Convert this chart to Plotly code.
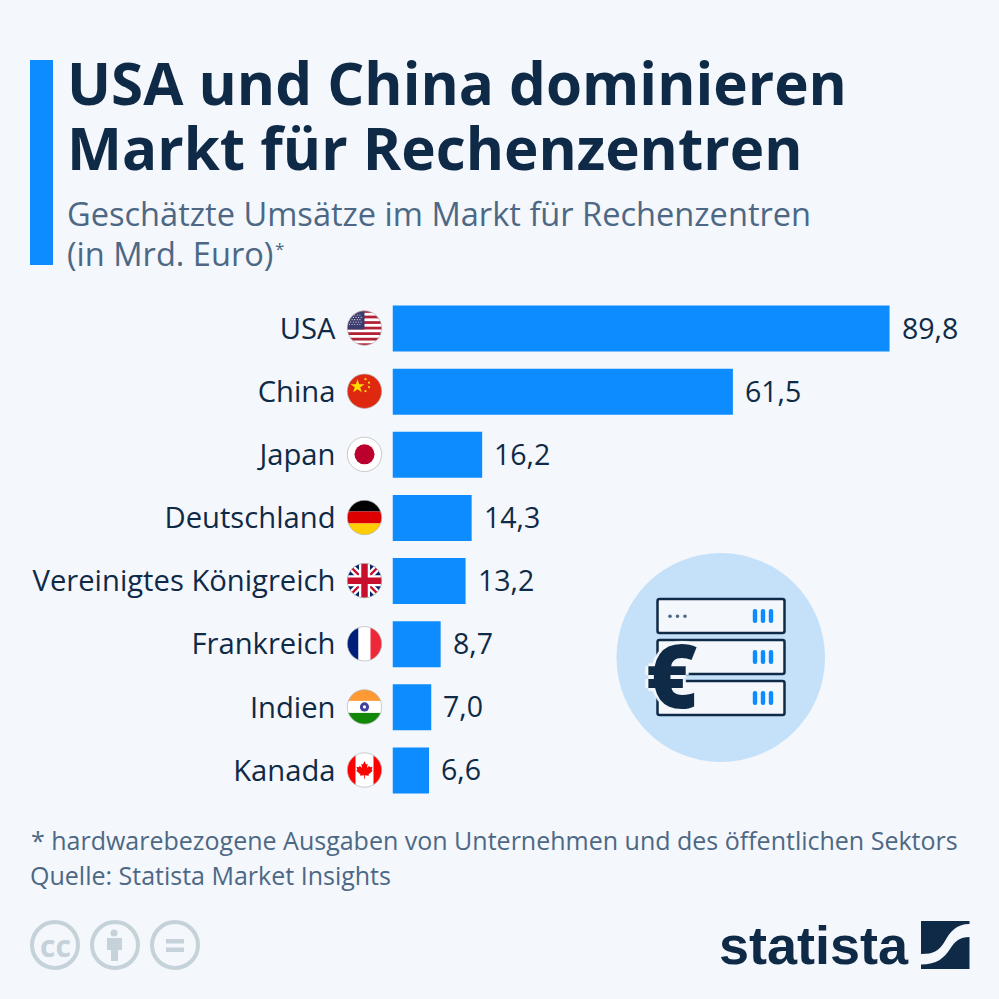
from urllib.parse import quote

import plotly.graph_objects as go

CATEGORIES = [
    "USA",
    "China",
    "Japan",
    "Deutschland",
    "Vereinigtes Königreich",
    "Frankreich",
    "Indien",
    "Kanada",
]
VALUES = [89.8, 61.5, 16.2, 14.3, 13.2, 8.7, 7.0, 6.6]

TITLE_LINES = ["USA und China dominieren", "Markt für Rechenzentren"]
SUBTITLE_LINES = ["Geschätzte Umsätze im Markt für Rechenzentren", "(in Mrd. Euro)"]
FOOTER_LINES = [
    "* hardwarebezogene Ausgaben von Unternehmen und des öffentlichen Sektors",
    "Quelle: Statista Market Insights",
]

BACKGROUND = "#f4f7fb"
BLUE = "#0c8cff"
NAVY = "#0f2a47"
SLATE = "#4d6885"
CC_GREY = "#c5d2da"
FONT = "Open Sans"

US_STARS = "".join(
    f'<circle cx="{3 + 2.6 * col + 1.3 * (row % 2)}" cy="{5 + 2.3 * row}" r="0.55" fill="#fff"/>'
    for row in range(5)
    for col in range(5)
)
US_STRIPES = "".join(
    f'<rect x="0" y="{row * 36 / 13}" width="36" height="{36 / 13}" fill="#b22234"/>'
    for row in range(0, 13, 2)
)
LEAF = (
    "M18 7 L20 11 L22 10 L21 15.5 L24 12.5 L24.8 14.5 L28 14 L27 18 L28.3 19 L23 23.5 "
    "L23.5 25 L18.5 24.5 L18.5 29 L17.5 29 L17.5 24.5 L12.5 25 L13 23.5 L7.7 19 L9 18 "
    "L8 14 L11.2 14.5 L12 12.5 L15 15.5 L14 10 L16 11 Z"
)

#  Flags are small drawings, the circle clips them like the round badges
FLAGS = [
    f'<rect width="36" height="36" fill="#fff"/>{US_STRIPES}'
    f'<rect width="18" height="19.4" fill="#3c3b6e"/>{US_STARS}',
    '<rect width="36" height="36" fill="#de2910"/>'
    '<path d="M11 6 L12.6 11 L18 11 L13.7 14 L15.3 19 L11 16 L6.7 19 L8.3 14 L4 11 L9.4 11 Z" fill="#ffde00"/>'
    '<circle cx="19" cy="6" r="1.1" fill="#ffde00"/><circle cx="22.5" cy="9.5" r="1.1" fill="#ffde00"/>'
    '<circle cx="22.5" cy="14" r="1.1" fill="#ffde00"/><circle cx="19" cy="18" r="1.1" fill="#ffde00"/>',
    '<rect width="36" height="36" fill="#fff"/><circle cx="18" cy="18" r="10" fill="#bc002d"/>',
    '<rect width="36" height="12" fill="#000"/><rect y="12" width="36" height="12" fill="#dd0000"/>'
    '<rect y="24" width="36" height="12" fill="#ffce00"/>',
    '<rect width="36" height="36" fill="#012169"/>'
    '<path d="M0 0 L36 36 M36 0 L0 36" stroke="#fff" stroke-width="7"/>'
    '<path d="M0 0 L36 36 M36 0 L0 36" stroke="#c8102e" stroke-width="2.4"/>'
    '<path d="M18 0 V36 M0 18 H36" stroke="#fff" stroke-width="11"/>'
    '<path d="M18 0 V36 M0 18 H36" stroke="#c8102e" stroke-width="6.5"/>',
    '<rect width="12" height="36" fill="#001f7a"/><rect x="12" width="12" height="36" fill="#fff"/>'
    '<rect x="24" width="12" height="36" fill="#ed2939"/>',
    '<rect width="36" height="12" fill="#ff9933"/><rect y="12" width="36" height="12" fill="#fff"/>'
    '<rect y="24" width="36" height="12" fill="#138808"/>'
    '<circle cx="18" cy="18" r="4.6" fill="#000080" fill-opacity="0.75"/><circle cx="18" cy="18" r="1.6" fill="#fff"/>',
    '<rect width="36" height="36" fill="#fff"/><rect width="9" height="36" fill="#f00"/>'
    f'<rect x="27" width="9" height="36" fill="#f00"/><path d="{LEAF}" fill="#f00" transform="translate(3.6 3.6) scale(0.8)"/>',
]


def flag_source(body):
    svg = (
        '<svg xmlns="http://www.w3.org/2000/svg" viewBox="0 0 36 36" width="144" height="144">'
        '<clipPath id="c"><circle cx="18" cy="18" r="17.2"/></clipPath>'
        f'<g clip-path="url(#c)">{body}</g>'
        '<circle cx="18" cy="18" r="17.2" fill="none" stroke="#b4b4b4" stroke-width="0.7"/></svg>'
    )
    return "data:image/svg+xml," + quote(svg)


def label(x, y, text, size, color, weight=400, xanchor="left", family=FONT):
    #  x and y are in pixels of the picture, see xaxis2 and yaxis2
    return {
        "xref": "x2",
        "yref": "y2",
        "x": x,
        "y": y,
        "text": text,
        "showarrow": False,
        "xanchor": xanchor,
        "yanchor": "middle",
        "borderpad": 0,
        "font": {"family": family, "size": size, "color": color, "weight": weight},
    }


def shape(kind, x0, y0, x1, y1, fill, line_color=None, line_width=0):
    return {
        "type": kind,
        "xref": "x2",
        "yref": "y2",
        "x0": x0,
        "y0": y0,
        "x1": x1,
        "y1": y1,
        "fillcolor": fill,
        "line": {"color": line_color or fill, "width": line_width},
    }


def path(d, fill="rgba(0,0,0,0)", line_color=None, line_width=0):
    return {
        "type": "path",
        "xref": "x2",
        "yref": "y2",
        "path": d,
        "fillcolor": fill,
        "line": {"color": line_color or fill, "width": line_width},
    }


def rounded(x0, y0, x1, y1, r):
    return (
        f"M {x0 + r} {y0} L {x1 - r} {y0} Q {x1} {y0} {x1} {y0 + r} L {x1} {y1 - r} "
        f"Q {x1} {y1} {x1 - r} {y1} L {x0 + r} {y1} Q {x0} {y1} {x0} {y1 - r} "
        f"L {x0} {y0 + r} Q {x0} {y0} {x0 + r} {y0} Z"
    )


def icon_shapes():
    shapes = [shape("circle", 616.5, 553, 825, 762, "#c5e0f9")]
    for top in [599, 640, 681]:
        shapes.append(path(rounded(657.5, top, 784.5, top + 34, 2), BACKGROUND, NAVY, 2.5))
        for x in [755, 763, 771]:
            shapes.append(path(rounded(x - 2.2, top + 10, x + 2.2, top + 24, 2), BLUE))
    for x in [670, 677.5, 685]:
        shapes.append(shape("circle", x - 1.8, 614.5, x + 1.8, 618.1, SLATE))
    return shapes


def cc_shapes():
    shapes = []
    for x in [55, 115, 175]:
        shapes.append(shape("circle", x - 23, 922, x + 23, 968, "rgba(0,0,0,0)", CC_GREY, 4))
    shapes.append(shape("circle", 110.5, 929.5, 117.5, 936.5, CC_GREY))
    shapes.append(path("M 107 938 L 122 938 L 122 950 L 118 950 L 118 961 L 111 961 L 111 950 L 107 950 Z", CC_GREY))
    shapes.append(shape("rect", 166, 939, 184, 943.5, CC_GREY))
    shapes.append(shape("rect", 166, 947.5, 184, 952, CC_GREY))
    return shapes


def logo_shapes():
    return [
        path(
            "M 921 921 L 969.5 921 L 969.5 924 C 956 924 950 932 945 941 "
            "C 939 951 934 954 921 954 Z",
            NAVY,
        ),
        path(
            "M 969.5 937 L 969.5 969 L 921 969 L 921 964.5 C 937 964.5 944 958 950 949 "
            "C 955 941 960 937 969.5 937 Z",
            NAVY,
        ),
    ]


def build_figure():
    fig = go.Figure()

    fig.add_trace(
        go.Bar(
            x=VALUES,
            y=CATEGORIES,
            orientation="h",
            marker={"color": BLUE, "line": {"width": 0}},
            hoverinfo="skip",
        )
    )

    annotations = [
        label(65.5, 82, TITLE_LINES[0], 58.3, NAVY, 700),
        label(65.5, 147, TITLE_LINES[1], 58.3, NAVY, 700),
        label(66, 213, SUBTITLE_LINES[0], 32.6, SLATE),
        label(66, 253, SUBTITLE_LINES[1], 32.6, SLATE),
        label(274, 248, "*", 17, SLATE),
        label(29.5, 840, FOOTER_LINES[0], 25, SLATE),
        label(29, 875, FOOTER_LINES[1], 25, SLATE),
        label(718, 945, "statista", 54, NAVY, 700, family="Liberation Sans"),
        label(55, 945, "cc", 30, CC_GREY, 700, xanchor="center"),
    ]

    euro = label(672, 674, "€", 88, NAVY, 800, xanchor="center")
    euro["font"]["shadow"] = ", ".join([f"{x}px {y}px 1px {BACKGROUND}" for x, y in [(-3, 0), (3, 0), (0, -3), (0, 3)]])
    annotations.append(euro)

    for category, value in zip(CATEGORIES, VALUES):
        annotations.append(
            {
                "x": value,
                "y": category,
                "text": f"{value:.1f}".replace(".", ","),
                "showarrow": False,
                "xanchor": "left",
                "xshift": 11,
                "yshift": 1,
                "borderpad": 0,
                "font": {"family": FONT, "size": 28.5, "color": NAVY},
            }
        )

    images = []
    for index, body in enumerate(FLAGS):
        center = 296.5 + 63.14 * (index + 0.5)
        images.append(
            {
                "source": flag_source(body),
                "xref": "paper",
                "yref": "paper",
                "x": (364.5 - 18) / 999,
                "y": 1 - (center - 18) / 999,
                "sizex": 36 / 999,
                "sizey": 36 / 999,
                "xanchor": "left",
                "yanchor": "top",
                "sizing": "stretch",
                "layer": "above",
            }
        )

    fig.update_layout(
        width=999,
        height=999,
        margin={"l": 0, "r": 0, "t": 0, "b": 0},
        paper_bgcolor=BACKGROUND,
        plot_bgcolor="rgba(0,0,0,0)",
        showlegend=False,
        bargap=0.27,
        font={"family": FONT},
        xaxis={
            "domain": [392.5 / 999, 1],
            "range": [0, 606.5 / 5.535],
            "visible": False,
        },
        yaxis={
            "domain": [1 - 802 / 999, 1 - 297 / 999],
            "type": "category",
            "categoryorder": "array",
            "categoryarray": CATEGORIES,
            "autorange": "reversed",
            "showgrid": False,
            "showline": False,
            "zeroline": False,
            "ticks": "",
            "ticklabelstandoff": 56,
            "tickfont": {"family": FONT, "size": 29.2, "color": NAVY},
        },
        xaxis2={"domain": [0, 1], "range": [0, 999], "visible": False, "anchor": "y2"},
        yaxis2={"domain": [0, 1], "range": [999, 0], "visible": False, "anchor": "x2"},
        shapes=[shape("rect", 30, 60, 53, 265, BLUE)] + icon_shapes() + cc_shapes() + logo_shapes(),
        annotations=annotations,
        images=images,
    )
    return fig


if __name__ == "__main__":
    fig = build_figure()
    fig.write_html(
        "out.html",
        config={"displayModeBar": False},
        post_script="document.body.style.margin = '0';",
    )
